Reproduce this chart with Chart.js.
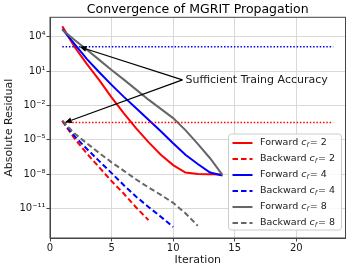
<!DOCTYPE html>
<html>
<head>
<meta charset="utf-8">
<script src="https://cdn.jsdelivr.net/npm/chart.js@4.4.0/dist/chart.umd.min.js"></script>
<style>
    html, body { margin: 0; padding: 0; background: #fff; }
    #wrap { width: 351px; height: 269px; }
</style>
</head>
<body>
<div id="wrap"><canvas id="graphic" width="351" height="269"></canvas></div>
<script>
// --- DATOS ---
const iterForward = [1, 2, 3, 4, 5, 6, 7, 8, 9, 10, 11, 12, 13, 14];
const forwardCf2 = [7.9e4, 1.26e3, 40, 1.6, 5.0e-2, 2.0e-3, 1.0e-4, 6.3e-6, 5.0e-7, 6.3e-8, 1.4e-8, 1.07e-8, 1.0e-8, 9.3e-9];
const forwardCf4 = [4.5e4, 2.2e3, 1.1e2, 7.9, 0.63, 5.6e-2, 5.6e-3, 5.6e-4, 5.6e-5, 5.0e-6, 5.0e-7, 7.9e-8, 1.4e-8, 7.9e-9];
const forwardCf8 = [4.0e4, 5.2e3, 7.1e2, 95, 12.6, 1.8, 0.24, 3.2e-2, 5.0e-3, 7.9e-4, 7.1e-5, 4.5e-6, 2.5e-7, 8.9e-9];

const iterBackCf2 = [1, 2, 3, 4, 5, 6, 7, 8];
const backwardCf2 = [4.5e-4, 1.26e-5, 6.3e-7, 4.0e-8, 2.5e-9, 2.0e-10, 1.26e-11, 1.0e-12];
const iterBackCf4 = [1, 2, 3, 4, 5, 6, 7, 8, 9, 10];
const backwardCf4 = [4.5e-4, 2.0e-5, 1.6e-6, 1.4e-7, 1.26e-8, 1.1e-9, 1.1e-10, 1.4e-11, 2.0e-12, 2.5e-13];
const iterBackCf8 = [1, 2, 3, 4, 5, 6, 7, 8, 9, 10, 11, 12];
const backwardCf8 = [4.5e-4, 3.5e-5, 5.0e-6, 7.1e-7, 1.1e-7, 2.0e-8, 3.5e-9, 7.1e-10, 1.6e-10, 3.2e-11, 4.0e-12, 3.2e-13];

// lineas de precision suficiente
const umbralIter = [1, 23];
const umbralForward = 1.3e3;
const umbralBackward = 3.2e-4;

// ejes
const xTicks = [0, 5, 10, 15, 20];
const yTicks = [1e-11, 1e-8, 1e-5, 1e-2, 1e1, 1e4];
const yTickLabels = ["10⁻¹¹", "10⁻⁸", "10⁻⁵", "10⁻²", "10¹", "10⁴"];

// textos
const tituloGrafico = "Convergence of MGRIT Propagation";
const textoAnotacion = "Sufficient Traing Accuracy";
const posTexto = { x: 11, y: 1.7 };
const puntasFlecha = [{ x: 2.4, y: umbralForward }, { x: 1.2, y: umbralBackward }];

const rojo = "#ff0000";
const azul = "#0000ff";
const gris = "#666666";
const FUENTE = '"DejaVu Sans"';

function puntos(xs, ys) {
    return xs.map((v, i) => ({ x: v, y: ys[i] }));
}

const series = [
    { nombre: "Forward", cf: 2, data: puntos(iterForward, forwardCf2), color: rojo, dash: [] },
    { nombre: "Backward", cf: 2, data: puntos(iterBackCf2, backwardCf2), color: rojo, dash: [5.5, 3] },
    { nombre: "Forward", cf: 4, data: puntos(iterForward, forwardCf4), color: azul, dash: [] },
    { nombre: "Backward", cf: 4, data: puntos(iterBackCf4, backwardCf4), color: azul, dash: [5.5, 3] },
    { nombre: "Forward", cf: 8, data: puntos(iterForward, forwardCf8), color: gris, dash: [] },
    { nombre: "Backward", cf: 8, data: puntos(iterBackCf8, backwardCf8), color: gris, dash: [5.5, 3] }
];

const datasets = series.map((s, i) => ({
    label: s.nombre + " c_f=" + s.cf,
    nombre: s.nombre,
    cf: s.cf,
    enLeyenda: true,
    data: s.data,
    borderColor: s.color,
    borderDash: s.dash,
    borderWidth: 2,
    pointRadius: 0,
    tension: 0,
    order: 20 - i
}));

datasets.push({
    label: "umbral forward",
    data: umbralIter.map(x => ({ x: x, y: umbralForward })),
    borderColor: azul, borderDash: [1.5, 1.8], borderWidth: 1.5, pointRadius: 0, order: 2
});
datasets.push({
    label: "umbral backward",
    data: umbralIter.map(x => ({ x: x, y: umbralBackward })),
    borderColor: rojo, borderDash: [1.5, 1.8], borderWidth: 1.5, pointRadius: 0, order: 1
});

// --- PLUGIN: titulo, marco, flechas y leyenda ---
const extras = {
    id: "extras",
    afterDatasetsDraw(chart) {
        const c = chart.ctx;
        const a = chart.chartArea;
        const sx = chart.scales.x;
        const sy = chart.scales.y;

        // titulo centrado sobre el area del grafico
        c.save();
        c.fillStyle = "#000";
        c.font = "12.5px " + FUENTE;
        c.textAlign = "center";
        c.textBaseline = "alphabetic";
        c.fillText(tituloGrafico, (a.left + a.right) / 2, 13);
        c.restore();

        // marco completo
        c.save();
        c.strokeStyle = "#444";
        c.lineWidth = 1;
        c.strokeRect(a.left, a.top, a.right - a.left, a.bottom - a.top);
        c.restore();

        // texto y flechas
        const tx = sx.getPixelForValue(posTexto.x);
        const ty = sy.getPixelForValue(posTexto.y);
        c.save();
        c.fillStyle = "#1a1a1a";
        c.font = "11px " + FUENTE;
        c.textAlign = "left";
        c.textBaseline = "middle";
        c.fillText(textoAnotacion, tx, ty);
        c.strokeStyle = "#000";
        c.fillStyle = "#000";
        c.lineWidth = 1.2;
        puntasFlecha.forEach(p => {
            const px = sx.getPixelForValue(p.x);
            const py = sy.getPixelForValue(p.y);
            const x0 = tx - 3;
            const ang = Math.atan2(py - ty, px - x0);
            const largo = 7, ancho = 3;
            const bx = px - largo * Math.cos(ang);
            const by = py - largo * Math.sin(ang);
            c.beginPath();
            c.moveTo(x0, ty);
            c.lineTo(bx, by);
            c.stroke();
            c.beginPath();
            c.moveTo(px, py);
            c.lineTo(bx + ancho * Math.sin(ang), by - ancho * Math.cos(ang));
            c.lineTo(bx - ancho * Math.sin(ang), by + ancho * Math.cos(ang));
            c.closePath();
            c.fill();
        });
        c.restore();

        // leyenda
        const items = chart.data.datasets.filter(d => d.enLeyenda);
        const fs = 9.5;
        const fila = 16;
        const ancho = 113;
        const alto = items.length * fila;
        const lx = a.right - 4 - ancho;
        const ly = a.bottom - 8 - alto;
        c.save();
        c.fillStyle = "rgba(255,255,255,0.85)";
        c.strokeStyle = "#cccccc";
        c.lineWidth = 1;
        c.beginPath();
        c.roundRect(lx, ly, ancho, alto, 3);
        c.fill();
        c.stroke();
        items.forEach((d, i) => {
            const y = ly + 9 + i * fila;
            c.strokeStyle = d.borderColor;
            c.lineWidth = 2;
            c.setLineDash(d.borderDash);
            c.beginPath();
            c.moveTo(lx + 4, y);
            c.lineTo(lx + 24, y);
            c.stroke();
            c.setLineDash([]);
            let x = lx + 31.5;
            c.fillStyle = "#1a1a1a";
            c.textAlign = "left";
            c.textBaseline = "middle";
            c.font = fs + "px " + FUENTE;
            c.fillText(d.nombre + " ", x, y);
            x += c.measureText(d.nombre + " ").width;
            c.font = "italic " + fs + "px " + FUENTE;
            c.fillText("c", x, y);
            x += c.measureText("c").width;
            c.font = "italic " + (fs * 0.7) + "px " + FUENTE;
            c.fillText("f", x, y + fs * 0.25);
            x += c.measureText("f").width + 1;
            c.font = fs + "px " + FUENTE;
            c.fillText("= " + d.cf, x, y);
        });
        c.restore();
    }
};

Chart.defaults.font.family = FUENTE;
Chart.defaults.color = "#1a1a1a";

const grafico = new Chart(document.getElementById("graphic").getContext("2d"), {
    type: "line",
    data: { datasets: datasets },
    options: {
        responsive: false,
        animation: false,
        layout: { padding: { top: 17.3, right: 5.5 } },
        plugins: {
            legend: { display: false },
            tooltip: { enabled: false },
            title: { display: false }
        },
        scales: {
            x: {
                type: "linear",
                min: 0,
                max: 24,
                afterBuildTicks: s => { s.ticks = xTicks.map(v => ({ value: v })); },
                afterFit: s => { s.height = 31; },
                ticks: { font: { size: 10 }, padding: 1, maxRotation: 0 },
                grid: { color: "#d9d9d9", tickColor: "#444", tickLength: 3.5 },
                border: { color: "#444" },
                title: { display: true, text: "Iteration", font: { size: 11 }, padding: { top: 0, bottom: 2 } }
            },
            y: {
                type: "logarithmic",
                min: Math.pow(10, -13.56),
                max: Math.pow(10, 5.69),
                afterBuildTicks: s => { s.ticks = yTicks.map(v => ({ value: v })); },
                afterFit: s => { s.width = 50; },
                ticks: {
                    font: { size: 10 },
                    padding: 1,
                    callback: v => {
                        const i = yTicks.findIndex(t => Math.abs(Math.log10(t) - Math.log10(v)) < 1e-6);
                        return i >= 0 ? yTickLabels[i] : "";
                    }
                },
                grid: { color: "#d9d9d9", tickColor: "#444", tickLength: 3.5 },
                border: { color: "#444" },
                title: { display: true, text: "Absolute Residual", font: { size: 11 }, padding: { top: 2.6, bottom: 0 } }
            }
        }
    },
    plugins: [extras]
});
</script>
</body>
</html>
